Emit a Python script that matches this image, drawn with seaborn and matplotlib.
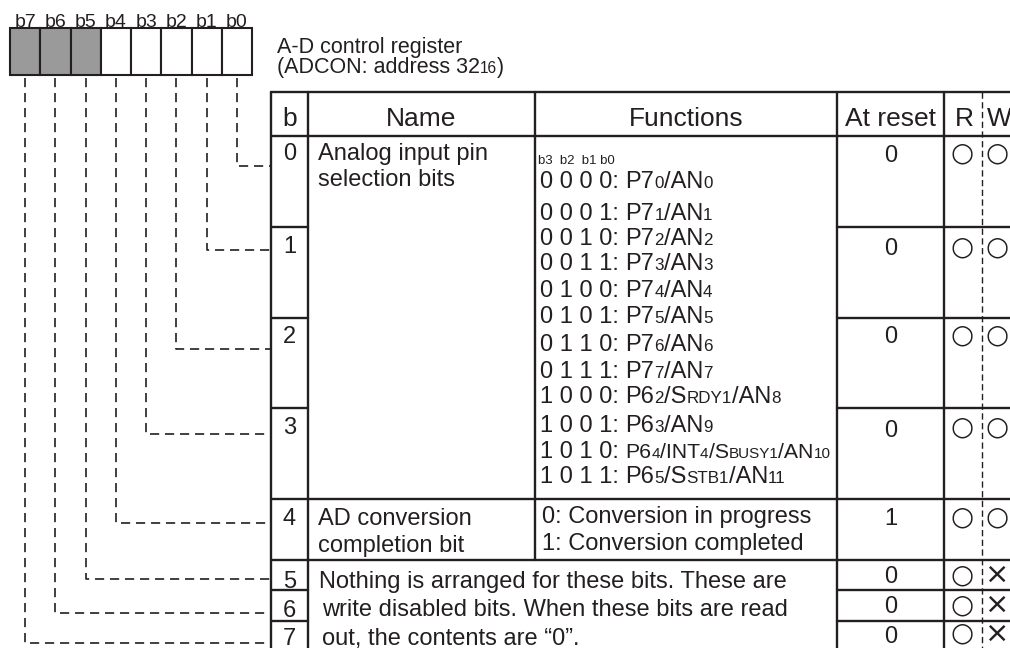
import re
import matplotlib
matplotlib.use("Agg")
import matplotlib.pyplot as plt
import seaborn as sns

# ---- content ----
bit_labels = ["b7", "b6", "b5", "b4", "b3", "b2", "b1", "b0"]
bit_reserved = [True, True, True, False, False, False, False, False]
row_bits = ["0", "1", "2", "3", "4", "5", "6", "7"]
reset_vals = ["0", "0", "0", "0", "1", "0", "0", "0"]
read_ok = ["○", "○", "○", "○", "○", "○", "○", "○"]
write_ok = ["○", "○", "○", "○", "○", "×", "×", "×"]
headers = ["b", "Name", "Functions", "At reset", "R", "W"]
title_lines = ["A-D control register", "(ADCON: address 32{16})"]
sel_header = "b3  b2  b1 b0"
sel_codes = ["0 0 0 0:", "0 0 0 1:", "0 0 1 0:", "0 0 1 1:", "0 1 0 0:", "0 1 0 1:",
             "0 1 1 0:", "0 1 1 1:", "1 0 0 0:", "1 0 0 1:", "1 0 1 0:", "1 0 1 1:"]
sel_pins = ["P7{0}/AN{0}", "P7{1}/AN{1}", "P7{2}/AN{2}", "P7{3}/AN{3}", "P7{4}/AN{4}",
            "P7{5}/AN{5}", "P7{6}/AN{6}", "P7{7}/AN{7}", "P6{2}/S{RDY1}/AN{8}",
            "P6{3}/AN{9}", "P6{4}/INT{4}/S{BUSY1}/AN{10}", "P6{5}/S{STB1}/AN{11}"]
name_sel = ["Analog input pin", "selection bits"]
name_adc = ["AD conversion", "completion bit"]
func_adc = ["0: Conversion in progress", "1: Conversion completed"]
note_lines = ["Nothing is arranged for these bits. These are",
              "write disabled bits. When these bits are read",
              "out, the contents are \u201c0\u201d."]

# ---- layout (pixels) ----
INK = "#231f20"
GRAY = "#9a9a9a"
box_x0, box_w, box_top, box_bot = 10, 30.25, 28, 75
turn_y = [166, 250, 349, 434, 523, 579, 613, 643]   # for bit 0..7
xL, xB, xN, xF, xR, xW, xE = 271, 308, 535, 837, 944, 982, 1012
y_top, y_head = 92, 136
row_edges = [136, 227, 318, 408, 499, 560, 590, 621, 652]
bit_base = [160, 253, 343, 434, 525, 588, 617, 645]
reset_base = [162, 255, 343, 437, 525, 583, 613, 643]
mark_y = [151, 244, 333, 425, 514, 572, 602, 631]
sel_base = [188, 220, 245, 270, 297, 323, 351, 378, 403, 432, 458, 483]
FS, FH = 17, 19

sns.set_theme(style="white")
plt.rcParams["font.family"] = ["Liberation Sans", "DejaVu Sans"]

fig = plt.figure(figsize=(10.1, 6.48), dpi=100)
ax = fig.add_axes([0, 0, 1, 1])
ax.set_xlim(0, 1010)
ax.set_ylim(648, 0)
ax.axis("off")
rend = fig.canvas.get_renderer()


def runs(x, y, markup, size, small=0.72, scale=1.0):
    # text with smaller sub-runs written in {braces}
    for part in re.split(r"(\{[^}]*\})", markup):
        if not part:
            continue
        fs = size * scale
        if part.startswith("{"):
            part, fs = part[1:-1], fs * small
        t = ax.text(x, y, part, fontsize=fs, va="baseline", ha="left", color=INK)
        x += t.get_window_extent(renderer=rend).width
    return x


# register bit boxes
centers = [box_x0 + (i + 0.5) * box_w for i in range(8)]
ax.bar(centers, box_bot - box_top, bottom=box_top, width=box_w,
       color=[GRAY if r else "white" for r in bit_reserved], edgecolor=INK, linewidth=1.5)
for cx, lab in zip(centers, bit_labels):
    ax.text(cx, 27, lab, fontsize=14, ha="center", va="baseline", color=INK)

# dashed leaders from each bit to its table row
for i, lab in enumerate(bit_labels):
    b = int(lab[1])
    ax.plot([centers[i], centers[i], xL], [box_bot + 3, turn_y[b], turn_y[b]],
            color=INK, lw=1.2, dashes=(5.5, 3.5))

runs(277, 53, title_lines[0], 15.5)
runs(277, 73, title_lines[1], 15.5)

# table grid
lw = 1.7
ax.plot([xL, xE], [y_top, y_top], color=INK, lw=lw)
ax.plot([xL, xE], [y_head, y_head], color=INK, lw=lw)
for xv in (xL, xB, xF, xR):
    ax.plot([xv, xv], [y_top, 652], color=INK, lw=lw)
ax.plot([xN, xN], [y_top, row_edges[5]], color=INK, lw=lw)
ax.plot([xW, xW], [y_top, 652], color=INK, lw=1.0, dashes=(4.5, 2.5))
for ye in row_edges[1:-1]:
    if ye in (499, 560):
        ax.plot([xL, xE], [ye, ye], color=INK, lw=lw)
    else:
        ax.plot([xL, xB], [ye, ye], color=INK, lw=lw)
        ax.plot([xF, xE], [ye, ye], color=INK, lw=lw)

# header
hx = [(xL + xB) / 2, (xB + xN) / 2, (xN + xF) / 2, (xF + xR) / 2, (xR + xW) / 2 + 1, 999]
for x, h in zip(hx, headers):
    ax.text(x, 126, h, fontsize=FH, ha="center", va="baseline", color=INK)

# per-bit cells
for b in range(8):
    ax.text((xL + xB) / 2, bit_base[b], row_bits[b], fontsize=FS, ha="center",
            va="baseline", color=INK)
    ax.text((xF + xR) / 2, reset_base[b], reset_vals[b], fontsize=FS, ha="center",
            va="baseline", color=INK)
    for x, m in ((962, read_ok[b]), (997, write_ok[b])):
        ax.text(x, mark_y[b], m, fontsize=19 if m == "○" else 21, ha="center",
                va="center_baseline", color=INK, family="DejaVu Sans")

# names
runs(318, 160, name_sel[0], FS)
runs(318, 186, name_sel[1], FS)
runs(318, 525, name_adc[0], FS)
runs(318, 552, name_adc[1], FS)

# functions
ax.text(538, 164, sel_header, fontsize=9.5, ha="left", va="baseline", color=INK)
space = 0.278 * FS * 100 / 72
for code, pin, yb in zip(sel_codes, sel_pins, sel_base):
    t = ax.text(540, yb, code, fontsize=FS, ha="left", va="baseline", color=INK)
    x = 540 + t.get_window_extent(renderer=rend).width + space
    runs(x, yb, pin, FS, scale=0.9 if "INT" in pin else 1.0)
runs(542, 523, func_adc[0], FS)
runs(542, 550, func_adc[1], FS)

# unused bits note
for x, yb, line in zip([319, 322, 322], [588, 616, 645], note_lines):
    runs(x, yb, line, FS)

fig.savefig("out.png", dpi=100)
